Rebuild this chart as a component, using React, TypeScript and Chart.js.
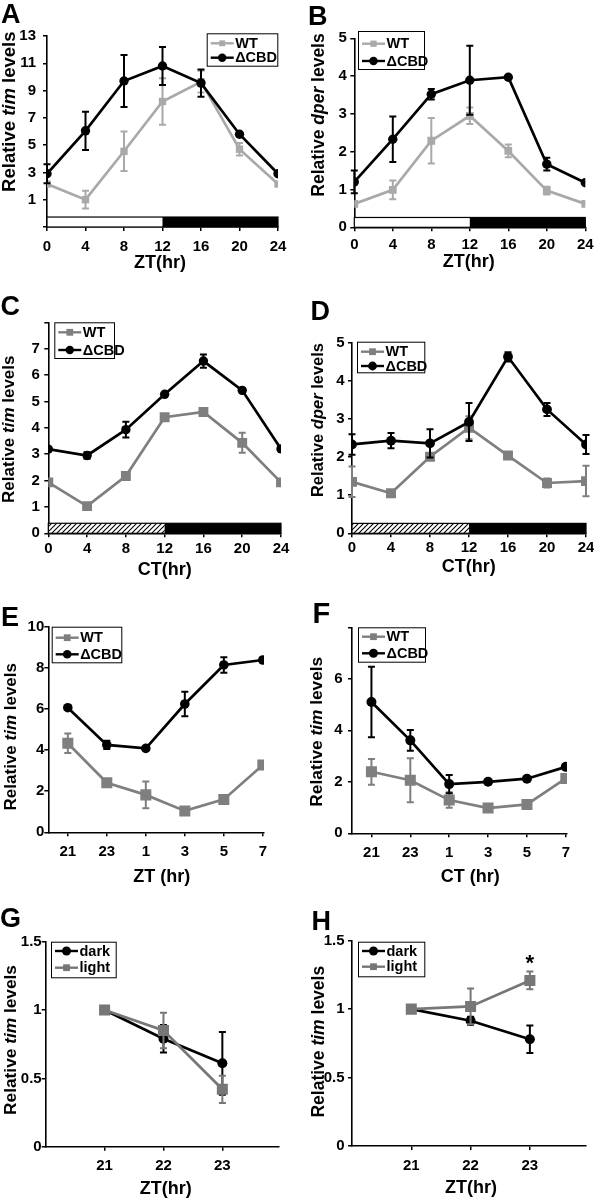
import React, { useEffect, useRef } from "react";
import { Chart, registerables } from "chart.js";

Chart.register(...registerables);

const FONT = '"Liberation Sans", Arial, Helvetica, sans-serif';

// ---------------- data ----------------
const ztHours = [0, 4, 8, 12, 16, 20, 24];
const lightDarkEdges = [0, 12, 24];

// A: ZT tim
const aWT = [2.15, 1.0, 4.55, 8.2, 9.65, 4.7, 2.15];
const aWTErr = [0, 0.65, 1.45, 1.7, 0.8, 0.45, 0];
const aCBD = [2.9, 6.05, 9.7, 10.8, 9.55, 5.8, 2.9];
const aCBDErr = [0.7, 1.4, 1.9, 1.4, 1.0, 0.15, 0];

// B: ZT dper
const bWT = [0.62, 0.99, 2.29, 2.95, 2.02, 0.97, 0.62];
const bWTErr = [0, 0.25, 0.6, 0.22, 0.17, 0.1, 0];
const bCBD = [1.2, 2.33, 3.52, 3.89, 3.97, 1.67, 1.18];
const bCBDErr = [0.3, 0.6, 0.14, 0.91, 0, 0.17, 0];

// C: CT tim
const cWT = [1.93, 1.03, 2.17, 4.4, 4.6, 3.43, 1.93];
const cWTErr = [0, 0.1, 0.15, 0, 0, 0.38, 0];
const cCBD = [3.19, 2.95, 3.93, 5.27, 6.53, 5.42, 3.2];
const cCBDErr = [0, 0.12, 0.3, 0, 0.25, 0, 0];

// D: CT dper
const dWT = [1.35, 1.05, 2.01, 2.77, 2.04, 1.32, 1.37];
const dWTErr = [0.4, 0, 0.05, 0.3, 0, 0.12, 0.4];
const dCBD = [2.33, 2.43, 2.36, 2.92, 4.63, 3.25, 2.33];
const dCBDErr = [0.27, 0.2, 0.37, 0.5, 0.12, 0.17, 0.25];

// E / F: categories
const efCategories = ["21", "23", "1", "3", "5", "7"];
const efIndex = [0, 1, 2, 3, 4, 5];
const eWT = [4.33, 2.41, 1.82, 1.04, 1.6, 3.27];
const eWTErr = [0.47, 0, 0.65, 0, 0, 0];
const eCBD = [6.06, 4.25, 4.08, 6.24, 8.14, 8.38];
const eCBDErr = [0, 0.2, 0, 0.6, 0.38, 0];
const fWT = [2.39, 2.06, 1.29, 0.98, 1.12, 2.13];
const fWTErr = [0.5, 0.85, 0.3, 0, 0, 0];
const fCBD = [5.1, 3.61, 1.91, 2.0, 2.12, 2.58];
const fCBDErr = [1.37, 0.4, 0.35, 0, 0, 0];

// G / H
const ghHours = [21, 22, 23];
const gDark = [1.0, 0.79, 0.61];
const gDarkErr = [0, 0.1, 0.23];
const gLight = [1.0, 0.85, 0.42];
const gLightErr = [0, 0.13, 0.1];
const hDark = [1.0, 0.915, 0.78];
const hDarkErr = [0, 0.03, 0.1];
const hLight = [1.0, 1.02, 1.21];
const hLightErr = [0, 0.13, 0.065];

// ---------------- styles ----------------
const BLACK = "#000000";
const GRAY_LIGHT = "#a9a9a9";
const GRAY_MID = "#7f7f7f";
const GRAY_GH = "#777777";

type Series = {
  label: string;
  x: number[];
  y: number[];
  err: number[];
  color: string;
  shape: "rect" | "circle";
  radius: number;
  order: number;
};

type Spec = {
  letter: string;
  letterPos: [number, number, number];
  left: number;
  top: number;
  area: [number, number, number, number];
  xMin: number;
  xMax: number;
  xTicks: number[];
  xLabels?: string[];
  xPad: number;
  yMin: number;
  yMax: number;
  yStep: number;
  yHide: number[];
  yPad: number;
  series: Series[];
  legend: { x: number; y: number; w: number; h: number; rows: number[] };
  yTitle: { it: string; x: number; y: number; size: number };
  xTitle: { text: string; x: number; y: number };
  bar?: { from: number; to: number; hatched: boolean };
  star?: { x: number; y: number };
};

const wt = (x: number[], y: number[], err: number[], color: string, r: number): Series => ({
  label: "WT", x, y, err, color, shape: "rect", radius: r, order: 1,
});
const cbd = (x: number[], y: number[], err: number[], r: number): Series => ({
  label: "\u0394CBD", x, y, err, color: BLACK, shape: "circle", radius: r, order: 0,
});

const specs: Spec[] = [
  {
    letter: "A", letterPos: [1, 1, 27], left: 0, top: 0, area: [47, 36, 278, 227],
    xMin: 0, xMax: 24, xTicks: ztHours, xPad: 6.5,
    yMin: -1, yMax: 13, yStep: 2, yHide: [-1], yPad: 7,
    series: [wt(ztHours, aWT, aWTErr, GRAY_LIGHT, 5.2), cbd(ztHours, aCBD, aCBDErr, 4.7)],
    legend: { x: 206.7, y: 33.3, w: 71.6, h: 33.4, rows: [43.3, 57.7] },
    yTitle: { it: "tim", x: 9.7, y: 111.7, size: 18.5 },
    xTitle: { text: "ZT(hr)", x: 160, y: 263.5 },
    bar: { from: -1, to: -0.27, hatched: false },
  },
  {
    letter: "B", letterPos: [308, 3, 27], left: 297, top: 0, area: [57.3, 38.3, 288.3, 227.3],
    xMin: 0, xMax: 24, xTicks: ztHours, xPad: 5,
    yMin: 0, yMax: 5, yStep: 1, yHide: [], yPad: 3.5,
    series: [wt(ztHours, bWT, bWTErr, GRAY_LIGHT, 5.5), cbd(ztHours, bCBD, bCBDErr, 4.7)],
    legend: { x: 61, y: 31, w: 67, h: 39, rows: [43.7, 61] },
    yTitle: { it: "dper", x: 21.7, y: 115, size: 17.5 },
    xTitle: { text: "ZT(hr)", x: 171.7, y: 262 },
    bar: { from: 0, to: 0.26, hatched: false },
  },
  {
    letter: "C", letterPos: [0.5, 292.5, 27], left: 0, top: 300, area: [48.3, 22.3, 281, 233.3],
    xMin: 0, xMax: 24, xTicks: ztHours, xPad: 3,
    yMin: 0, yMax: 8, yStep: 1, yHide: [8], yPad: 4.5,
    series: [wt(ztHours, cWT, cWTErr, GRAY_MID, 7), cbd(ztHours, cCBD, cCBDErr, 4.7)],
    legend: { x: 54.3, y: 22.3, w: 60.7, h: 36.7, rows: [32.3, 50] },
    yTitle: { it: "tim", x: 9.2, y: 129.2, size: 17 },
    xTitle: { text: "CT(hr)", x: 164.7, y: 270 },
    bar: { from: 0, to: 0.38, hatched: true },
  },
  {
    letter: "D", letterPos: [310.5, 297.5, 27], left: 297, top: 300, area: [55, 42.7, 289, 233.3],
    xMin: 0, xMax: 24, xTicks: ztHours, xPad: 2,
    yMin: 0, yMax: 5, yStep: 1, yHide: [], yPad: 3.5,
    series: [wt(ztHours, dWT, dWTErr, GRAY_MID, 7), cbd(ztHours, dCBD, dCBDErr, 4.9)],
    legend: { x: 60, y: 41.7, w: 68.3, h: 31.6, rows: [51.7, 66] },
    yTitle: { it: "dper", x: 21.7, y: 120, size: 16.5 },
    xTitle: { text: "CT(hr)", x: 171.7, y: 267 },
    bar: { from: 0, to: 0.26, hatched: true },
  },
  {
    letter: "E", letterPos: [1, 604, 27], left: 0, top: 600, area: [48.3, 26.7, 264, 232.3],
    xMin: -0.5, xMax: 5.03, xTicks: efIndex, xLabels: efCategories, xPad: 6.5,
    yMin: 0, yMax: 10, yStep: 2, yHide: [], yPad: 0,
    series: [wt(efIndex, eWT, eWTErr, GRAY_MID, 7.8), cbd(efIndex, eCBD, eCBDErr, 4.8)],
    legend: { x: 51.7, y: 26.7, w: 70.6, h: 36.6, rows: [37.7, 54.3] },
    yTitle: { it: "tim", x: 11.7, y: 136.7, size: 17 },
    xTitle: { text: "ZT (hr)", x: 161.7, y: 277.5 },
  },
  {
    letter: "F", letterPos: [312.5, 599, 29], left: 297, top: 600, area: [55, 27.3, 270, 233.3],
    xMin: -0.5, xMax: 5.03, xTicks: efIndex, xLabels: efCategories, xPad: 7,
    yMin: 0, yMax: 8, yStep: 2, yHide: [8], yPad: 5.5,
    series: [wt(efIndex, fWT, fWTErr, GRAY_MID, 7.8), cbd(efIndex, fCBD, fCBDErr, 5)],
    legend: { x: 61, y: 27.3, w: 68, h: 35.4, rows: [36.7, 53.3] },
    yTitle: { it: "tim", x: 20, y: 131.7, size: 17.3 },
    xTitle: { text: "CT (hr)", x: 173.3, y: 276.7 },
  },
  {
    letter: "G", letterPos: [0, 904.5, 27], left: 0, top: 900, area: [45.7, 41.7, 278.3, 246.7],
    xMin: 20, xMax: 23.95, xTicks: ghHours, xPad: 6.5,
    yMin: 0, yMax: 1.5, yStep: 0.5, yHide: [], yPad: 0,
    series: [
      { label: "dark", x: ghHours, y: gDark, err: gDarkErr, color: BLACK, shape: "circle", radius: 5, order: 1 },
      { label: "light", x: ghHours, y: gLight, err: gLightErr, color: GRAY_GH, shape: "rect", radius: 7.8, order: 0 },
    ],
    legend: { x: 51, y: 41.7, w: 65.7, h: 36.6, rows: [51, 67.7] },
    yTitle: { it: "tim", x: 11.7, y: 140, size: 17.3 },
    xTitle: { text: "ZT(hr)", x: 165.8, y: 289 },
  },
  {
    letter: "H", letterPos: [311.5, 908, 27], left: 297, top: 900, area: [55, 40.7, 290, 246],
    xMin: 20, xMax: 23.95, xTicks: ghHours, xPad: 7,
    yMin: 0, yMax: 1.5, yStep: 0.5, yHide: [], yPad: 3.5,
    series: [
      { label: "dark", x: ghHours, y: hDark, err: hDarkErr, color: BLACK, shape: "circle", radius: 5, order: 1 },
      { label: "light", x: ghHours, y: hLight, err: hLightErr, color: GRAY_GH, shape: "rect", radius: 7.8, order: 0 },
    ],
    legend: { x: 61, y: 41.7, w: 67.3, h: 35.6, rows: [51, 66.7] },
    yTitle: { it: "tim", x: 21.7, y: 141.7, size: 17.5 },
    xTitle: { text: "ZT(hr)", x: 174, y: 288 },
    star: { x: 23, y: 1.36 },
  },
];

const W = 297;
const H = 300;

function drawMarker(ctx: CanvasRenderingContext2D, shape: string, x: number, y: number, r: number, color: string) {
  ctx.fillStyle = color;
  ctx.beginPath();
  if (shape === "rect") {
    const s = Math.SQRT1_2 * r;
    ctx.rect(x - s, y - s, 2 * s, 2 * s);
  } else {
    ctx.arc(x, y, r, 0, Math.PI * 2);
  }
  ctx.fill();
}

function makeHatch(ctx: CanvasRenderingContext2D) {
  const c = document.createElement("canvas");
  c.width = 5;
  c.height = 5;
  const g = c.getContext("2d")!;
  g.fillStyle = "#fff";
  g.fillRect(0, 0, 5, 5);
  g.strokeStyle = "#000";
  g.lineWidth = 1.1;
  g.beginPath();
  g.moveTo(0, 5);
  g.lineTo(5, 0);
  g.moveTo(-1, 1);
  g.lineTo(1, -1);
  g.moveTo(4, 6);
  g.lineTo(6, 4);
  g.stroke();
  return ctx.createPattern(c, "repeat");
}

function Panel({ spec }: { spec: Spec }) {
  const ref = useRef<HTMLCanvasElement | null>(null);
  useEffect(() => {
    const canvas = ref.current!;
    const [L, T, R, B] = spec.area;
    const tickFont = { family: FONT, size: 15, weight: "bold" as const };

    const overlay = {
      id: "overlay",
      beforeDatasetsDraw(chart: any) {
        if (!spec.bar) return;
        const ctx = chart.ctx as CanvasRenderingContext2D;
        const xs = chart.scales.x;
        const ys = chart.scales.y;
        const x0 = xs.getPixelForValue(lightDarkEdges[0]);
        const x1 = xs.getPixelForValue(lightDarkEdges[1]);
        const x2 = xs.getPixelForValue(lightDarkEdges[2]);
        const yT = ys.getPixelForValue(spec.bar.to);
        const yB = ys.getPixelForValue(spec.bar.from);
        ctx.save();
        ctx.fillStyle = spec.bar.hatched ? (makeHatch(ctx) as any) : "#fff";
        ctx.fillRect(x0, yT, x1 - x0, yB - yT);
        ctx.fillStyle = "#000";
        ctx.fillRect(x1, yT, x2 - x1, yB - yT);
        ctx.strokeStyle = "#000";
        ctx.lineWidth = 1.2;
        ctx.strokeRect(x0, yT, x2 - x0, yB - yT);
        ctx.restore();
      },
      beforeDatasetDraw(chart: any, args: any) {
        const s = spec.series[args.index];
        if (!s) return;
        const ctx = chart.ctx as CanvasRenderingContext2D;
        const xs = chart.scales.x;
        const ys = chart.scales.y;
        ctx.save();
        ctx.strokeStyle = s.color;
        ctx.lineWidth = 2;
        s.err.forEach((e, i) => {
          if (!e) return;
          const px = xs.getPixelForValue(s.x[i]);
          const y1 = ys.getPixelForValue(s.y[i] + e);
          const y2 = ys.getPixelForValue(s.y[i] - e);
          ctx.beginPath();
          ctx.moveTo(px, y1);
          ctx.lineTo(px, y2);
          ctx.moveTo(px - 3.5, y1);
          ctx.lineTo(px + 3.5, y1);
          ctx.moveTo(px - 3.5, y2);
          ctx.lineTo(px + 3.5, y2);
          ctx.stroke();
        });
        ctx.restore();
      },
      afterDraw(chart: any) {
        const ctx = chart.ctx as CanvasRenderingContext2D;
        ctx.save();
        // legend
        const lg = spec.legend;
        ctx.fillStyle = "#fff";
        ctx.fillRect(lg.x, lg.y, lg.w, lg.h);
        ctx.strokeStyle = "#000";
        ctx.lineWidth = 1;
        ctx.strokeRect(lg.x + 0.5, lg.y + 0.5, lg.w - 1, lg.h - 1);
        spec.series.forEach((s, i) => {
          const ry = lg.rows[i];
          ctx.strokeStyle = s.color;
          ctx.lineWidth = 2.4;
          ctx.beginPath();
          ctx.moveTo(lg.x + 4, ry);
          ctx.lineTo(lg.x + 27, ry);
          ctx.stroke();
          drawMarker(ctx, s.shape, lg.x + 15.5, ry, s.shape === "rect" ? Math.min(s.radius, 6) * 0.8 : s.radius * 0.9, s.color);
          ctx.fillStyle = "#000";
          ctx.font = `bold 14.5px ${FONT}`;
          ctx.textBaseline = "middle";
          ctx.textAlign = "left";
          ctx.fillText(s.label, lg.x + 28.5, ry + 0.5);
        });
        // y title
        const yt = spec.yTitle;
        const fN = `bold ${yt.size}px ${FONT}`;
        const fI = `italic bold ${yt.size}px ${FONT}`;
        const parts: [string, string][] = [["Relative ", fN], [yt.it, fI], [" levels", fN]];
        let total = 0;
        const widths = parts.map(([t, f]) => {
          ctx.font = f;
          const w = ctx.measureText(t).width;
          total += w;
          return w;
        });
        ctx.translate(yt.x, yt.y);
        ctx.rotate(-Math.PI / 2);
        ctx.fillStyle = "#000";
        ctx.textBaseline = "middle";
        ctx.textAlign = "left";
        let cx = -total / 2;
        parts.forEach(([t, f], i) => {
          ctx.font = f;
          ctx.fillText(t, cx, 0);
          cx += widths[i];
        });
        ctx.setTransform(1, 0, 0, 1, 0, 0);
        // x title
        ctx.font = `bold 18px ${FONT}`;
        ctx.textAlign = "center";
        ctx.textBaseline = "middle";
        ctx.fillText(spec.xTitle.text, spec.xTitle.x, spec.xTitle.y);
        // significance star
        if (spec.star) {
          const px = chart.scales.x.getPixelForValue(spec.star.x);
          const py = chart.scales.y.getPixelForValue(spec.star.y);
          ctx.font = `bold 22px ${FONT}`;
          ctx.fillText("*", px, py + 4);
        }
        ctx.restore();
      },
    };

    const chart = new Chart(canvas, {
      type: "line",
      data: {
        datasets: spec.series.map((s) => ({
          label: s.label,
          data: s.x.map((x, i) => ({ x, y: s.y[i] })),
          borderColor: s.color,
          backgroundColor: s.color,
          borderWidth: 2.7,
          pointStyle: s.shape,
          pointRadius: s.radius,
          pointBackgroundColor: s.color,
          pointBorderColor: s.color,
          pointBorderWidth: 0,
          tension: 0,
          order: s.order,
        })),
      },
      options: {
        animation: false,
        responsive: false,
        events: [],
        layout: { padding: { top: T, right: W - R, left: 0, bottom: 0 } },
        plugins: { legend: { display: false }, tooltip: { enabled: false } },
        scales: {
          x: {
            type: "linear",
            min: spec.xMin,
            max: spec.xMax,
            afterBuildTicks: (s: any) => {
              s.ticks = spec.xTicks.map((v) => ({ value: v }));
            },
            afterFit: (s: any) => {
              s.height = H - B;
              s.paddingLeft = 0;
              s.paddingRight = 0;
            },
            ticks: {
              autoSkip: false,
              maxRotation: 0,
              minRotation: 0,
              padding: spec.xPad,
              color: "#000",
              font: tickFont,
              callback: (v: any) => (spec.xLabels ? spec.xLabels[Number(v)] ?? "" : String(v)),
            },
            grid: { display: true, drawOnChartArea: false, drawTicks: true, tickLength: 4, color: "#000", lineWidth: 1.5 },
            border: { display: true, color: "#000", width: 1.6 },
          },
          y: {
            type: "linear",
            min: spec.yMin,
            max: spec.yMax,
            ticks: {
              stepSize: spec.yStep,
              padding: spec.yPad,
              color: "#000",
              font: tickFont,
              callback: (v: any) => (spec.yHide.includes(Number(v)) ? "" : String(Number(v))),
            },
            afterFit: (s: any) => {
              s.width = L;
              s.paddingTop = 0;
              s.paddingBottom = 0;
            },
            grid: { display: true, drawOnChartArea: false, drawTicks: true, tickLength: 4, color: "#000", lineWidth: 1.5 },
            border: { display: true, color: "#000", width: 1.6 },
          },
        },
      },
      plugins: [overlay],
    } as any);
    return () => chart.destroy();
  }, [spec]);

  return (
    <div style={{ position: "absolute", left: spec.left, top: spec.top, width: W, height: H }}>
      <canvas ref={ref} width={W} height={H} style={{ display: "block", width: W, height: H }} />
    </div>
  );
}

export default function App() {
  return (
    <div style={{ position: "absolute", left: 0, top: 0, width: 594, height: 1200, background: "#fff", overflow: "hidden" }}>
      {specs.map((s) => (
        <Panel key={s.letter} spec={s} />
      ))}
      {specs.map((s) => (
        <div
          key={"l" + s.letter}
          style={{
            position: "absolute",
            left: s.letterPos[0],
            top: s.letterPos[1],
            fontFamily: FONT,
            fontWeight: "bold",
            fontSize: s.letterPos[2],
            lineHeight: 1,
            color: "#000",
          }}
        >
          {s.letter}
        </div>
      ))}
    </div>
  );
}
